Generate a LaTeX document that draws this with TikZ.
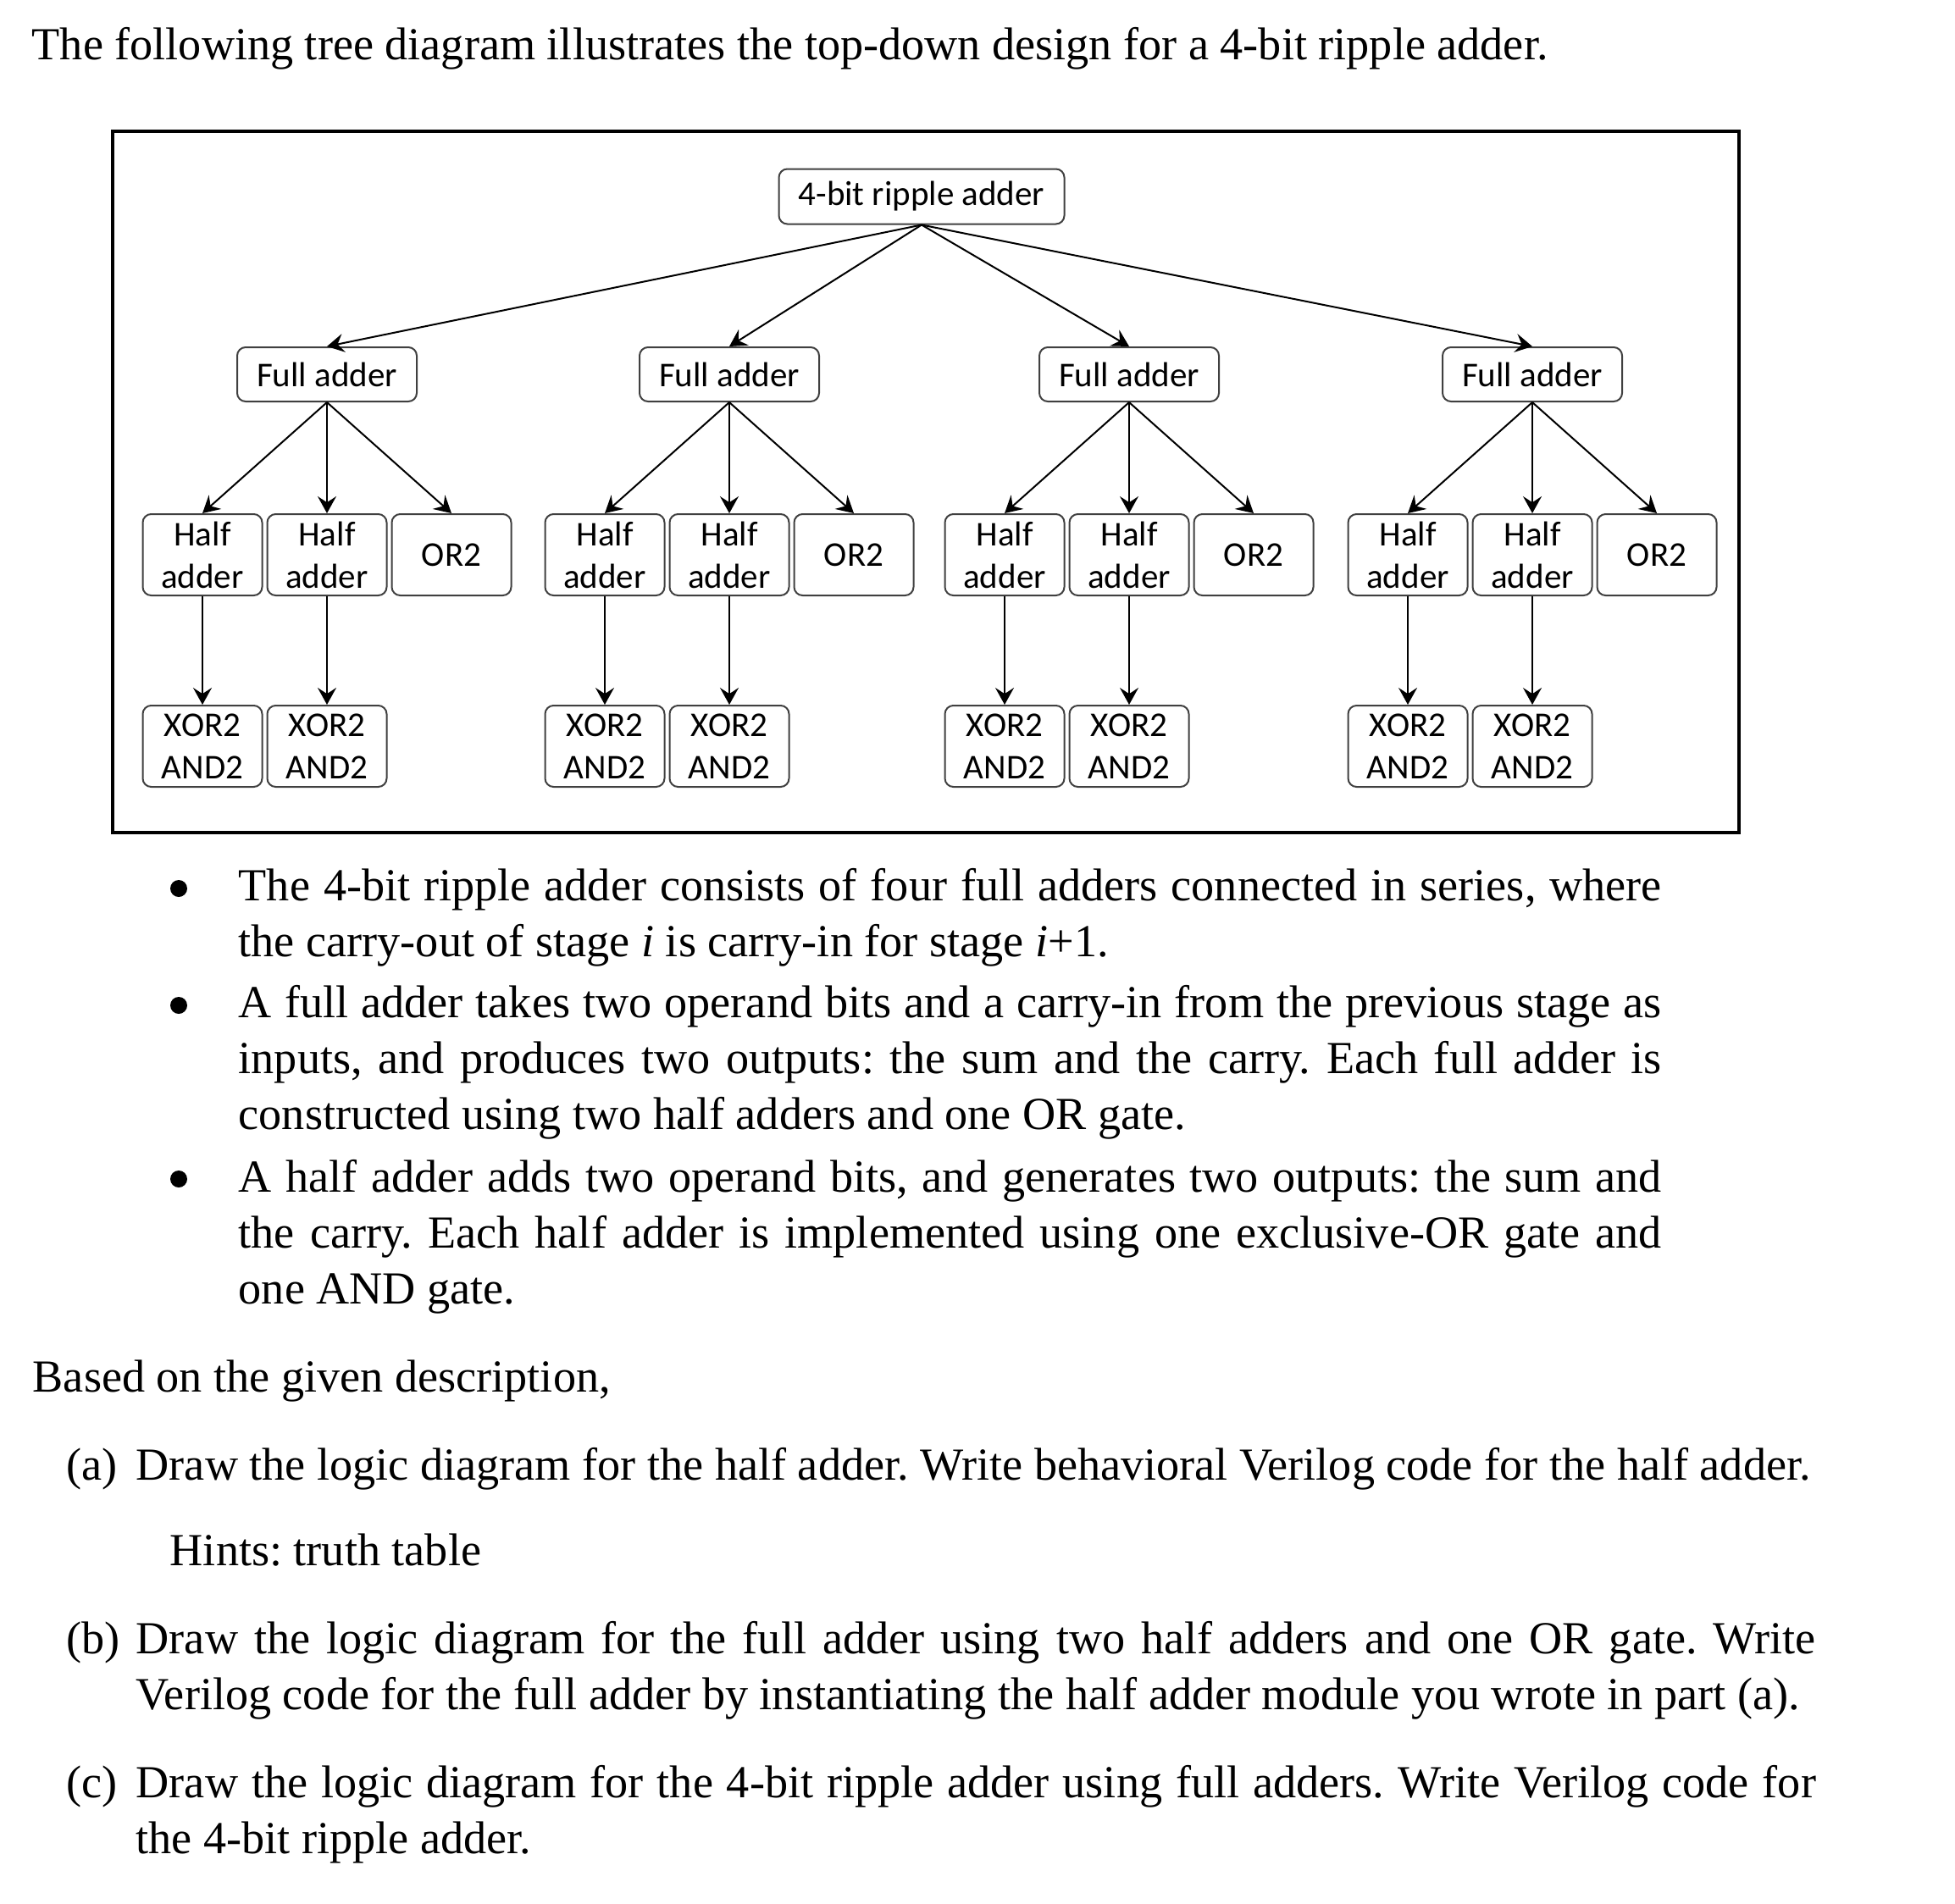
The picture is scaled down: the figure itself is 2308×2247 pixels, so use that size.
\documentclass[tikz,border=0pt]{standalone}
\usepackage{fontspec}
\setmainfont{Liberation Serif}
\newfontfamily\diagfont{Carlito}
\usetikzlibrary{arrows.meta}
\frenchspacing
\hyphenpenalty=10000
\exhyphenpenalty=10000
\tolerance=9999
\emergencystretch=10pt
\tikzset{
  blk/.style={draw=black!75, line width=0.5pt, rounded corners=2.5pt, align=center, inner sep=0pt,
    font=\diagfont\fontsize{10.25}{12.5}\selectfont},
  topbox/.style={blk, minimum width=84.25pt, minimum height=16.25pt},
  fabox/.style={blk, minimum width=53pt, minimum height=16pt},
  subbox/.style={blk, minimum width=35.25pt, minimum height=24pt},
  link/.style={->, line width=0.5pt},
  txt/.style={inner sep=0pt, anchor=base west, font=\fontsize{13.55}{16.5}\selectfont},
  para/.style={txt, align=justify},
  dot/.style={circle, fill=black, inner sep=0pt, minimum size=5pt}
}

\begin{document}
\begin{tikzpicture}[x=0.25pt, y=-0.25pt, >={Stealth[length=5pt,width=5.5pt,inset=1.8pt]}]
\fill[white] (0,0) rectangle (2308,2247);
\node[txt] (title) at (37,71) {The following tree diagram illustrates the top-down design for a 4-bit ripple adder.};
\draw[line width=0.85pt] (133,155) rectangle (2053,983);
\node[topbox] (rca) at (1088,232) {4-bit ripple adder};
\node[fabox] (fa1) at (386,442) {Full adder};
\node[fabox] (fa2) at (861,442) {Full adder};
\node[fabox] (fa3) at (1333,442) {Full adder};
\node[fabox] (fa4) at (1809,442) {Full adder};
\node[subbox] (ha1a) at (239,655) {Half\\adder};
\node[subbox] (ha1b) at (386,655) {Half\\adder};
\node[subbox] (or1) at (533,655) {OR2};
\node[subbox] (ha2a) at (714,655) {Half\\adder};
\node[subbox] (ha2b) at (861,655) {Half\\adder};
\node[subbox] (or2) at (1008,655) {OR2};
\node[subbox] (ha3a) at (1186,655) {Half\\adder};
\node[subbox] (ha3b) at (1333,655) {Half\\adder};
\node[subbox] (or3) at (1480,655) {OR2};
\node[subbox] (ha4a) at (1662,655) {Half\\adder};
\node[subbox] (ha4b) at (1809,655) {Half\\adder};
\node[subbox] (or4) at (1956,655) {OR2};
\node[subbox] (gt1a) at (239,881) {XOR2\\AND2};
\node[subbox] (gt1b) at (386,881) {XOR2\\AND2};
\node[subbox] (gt2a) at (714,881) {XOR2\\AND2};
\node[subbox] (gt2b) at (861,881) {XOR2\\AND2};
\node[subbox] (gt3a) at (1186,881) {XOR2\\AND2};
\node[subbox] (gt3b) at (1333,881) {XOR2\\AND2};
\node[subbox] (gt4a) at (1662,881) {XOR2\\AND2};
\node[subbox] (gt4b) at (1809,881) {XOR2\\AND2};
\draw[link] (rca.south) -- (fa1.north);
\draw[link] (rca.south) -- (fa2.north);
\draw[link] (rca.south) -- (fa3.north);
\draw[link] (rca.south) -- (fa4.north);
\draw[link] (fa1.south) -- (ha1a.north);
\draw[link] (fa1.south) -- (ha1b.north);
\draw[link] (fa1.south) -- (or1.north);
\draw[link] (fa2.south) -- (ha2a.north);
\draw[link] (fa2.south) -- (ha2b.north);
\draw[link] (fa2.south) -- (or2.north);
\draw[link] (fa3.south) -- (ha3a.north);
\draw[link] (fa3.south) -- (ha3b.north);
\draw[link] (fa3.south) -- (or3.north);
\draw[link] (fa4.south) -- (ha4a.north);
\draw[link] (fa4.south) -- (ha4b.north);
\draw[link] (fa4.south) -- (or4.north);
\draw[link] (ha1a.south) -- (gt1a.north);
\draw[link] (ha1b.south) -- (gt1b.north);
\draw[link] (ha2a.south) -- (gt2a.north);
\draw[link] (ha2b.south) -- (gt2b.north);
\draw[link] (ha3a.south) -- (gt3a.north);
\draw[link] (ha3b.south) -- (gt3b.north);
\draw[link] (ha4a.south) -- (gt4a.north);
\draw[link] (ha4b.south) -- (gt4b.north);
% bullet list
\node[dot] (bul1) at (211,1049) {};
\node[dot] (bul2) at (211,1187) {};
\node[dot] (bul3) at (211,1392) {};
\node[para, text width=420pt] (pt1) at (281,1063) {The 4-bit ripple adder consists of four full adders connected in series, where\linebreak the carry-out of stage \textit{i} is carry-in for stage \textit{i}+1.};
\node[para, text width=420pt] (pt2) at (281,1201) {A full adder takes two operand bits and a carry-in from the previous stage as\linebreak inputs, and produces two outputs: the sum and the carry. Each full adder is\linebreak constructed using two half adders and one OR gate.};
\node[para, text width=420pt] (pt3) at (281,1407) {A half adder adds two operand bits, and generates two outputs: the sum and\linebreak the carry. Each half adder is implemented using one exclusive-OR gate and\linebreak one AND gate.};
% questions
\node[txt] (based) at (38,1643) {Based on the given description,};
\node[txt] (lbla) at (78,1747) {(a)};
\node[txt] (qa) at (160,1747) {Draw the logic diagram for the half adder. Write behavioral Verilog code for the half adder.};
\node[txt] (hint) at (200,1848) {Hints: truth table};
\node[txt] (lblb) at (78,1952) {(b)};
\node[para, text width=495.75pt] (qb) at (160,1952) {Draw the logic diagram for the full adder using two half adders and one OR gate. Write\linebreak Verilog code for the full adder by instantiating the half adder module you wrote in part (a).};
\node[txt] (lblc) at (78,2122) {(c)};
\node[para, text width=495.75pt] (qc) at (160,2122) {Draw the logic diagram for the 4-bit ripple adder using full adders. Write Verilog code for\linebreak the 4-bit ripple adder.};
\end{tikzpicture}
\end{document}
